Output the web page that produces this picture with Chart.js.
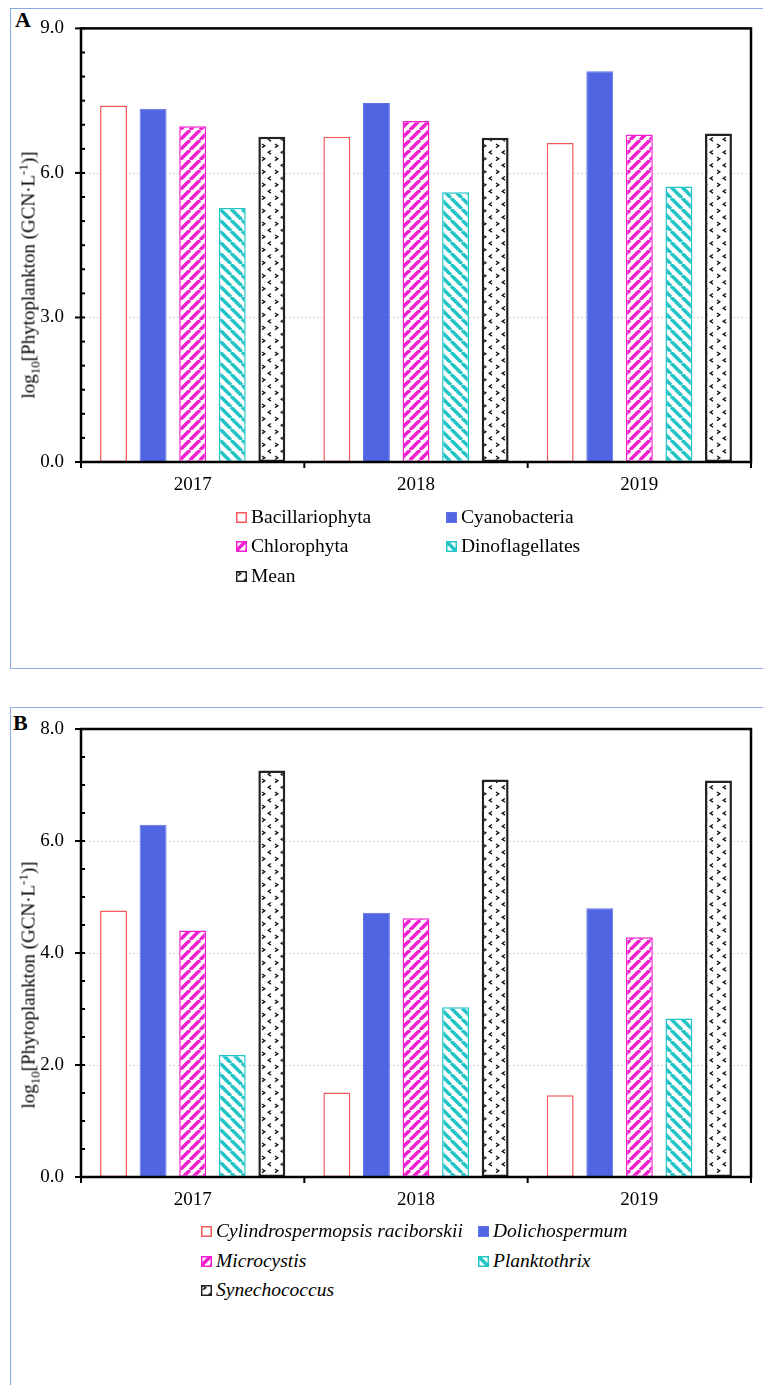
<!DOCTYPE html>
<html><head><meta charset="utf-8">
<script src="https://cdn.jsdelivr.net/npm/chart.js@4.4.1/dist/chart.umd.min.js"></script>
<style>
html,body{margin:0;padding:0;background:#fff;width:763px;height:1385px;overflow:hidden;}
body{position:relative;font-family:"Liberation Serif","Times New Roman",serif;color:#000;}
.panel{position:absolute;border:1.5px solid #88a9e4;box-sizing:border-box;}
.plabel{position:absolute;font-weight:bold;font-size:22px;line-height:22px;}
.ytitle{position:absolute;font-size:19px;line-height:19px;white-space:nowrap;transform:translate(-50%,-50%) rotate(-90deg);}
.ytitle sub,.ytitle sup{font-size:13px;line-height:0;}
.item{position:absolute;font-size:19.5px;line-height:19.5px;white-space:nowrap;}
.item canvas{display:inline-block;vertical-align:baseline;margin-right:4px;}
canvas.chart{position:absolute;left:0;}
</style></head>
<body>
<div class="panel" style="left:10px;top:8px;width:800px;height:661px"></div>
<div class="panel" style="left:10px;top:707px;width:800px;height:720px"></div>
<div class="plabel" style="left:15px;top:9px">A</div>
<div class="plabel" style="left:13px;top:712px">B</div>
<canvas id="cA" class="chart" width="763" height="510" style="top:0;width:763px;height:510px"></canvas>
<canvas id="cB" class="chart" width="763" height="525" style="top:700px;width:763px;height:525px"></canvas>
<div class="ytitle" style="left:28px;top:275px">log<sub>10</sub>[Phytoplankton (GCN·L<sup>-1</sup>)]</div>
<div class="ytitle" style="left:28px;top:985px">log<sub>10</sub>[Phytoplankton (GCN·L<sup>-1</sup>)]</div>
<script>
// ---- data ----
const years = ['2017', '2018', '2019'];
const namesA = ['Bacillariophyta', 'Cyanobacteria', 'Chlorophyta', 'Dinoflagellates', 'Mean'];
const bacillariophyta = [7.40, 6.75, 6.62];
const cyanobacteria   = [7.33, 7.45, 8.11];
const chlorophyta     = [6.97, 7.08, 6.80];
const dinoflagellates = [5.27, 5.60, 5.72];
const meanA           = [6.75, 6.73, 6.82];
const yTicksA = [0, 3, 6, 9];

const namesB = ['Cylindrospermopsis raciborskii', 'Dolichospermum', 'Microcystis', 'Planktothrix', 'Synechococcus'];
const cylindrospermopsis = [4.76, 1.51, 1.46];
const dolichospermum     = [6.29, 4.72, 4.80];
const microcystis        = [4.40, 4.62, 4.28];
const planktothrix       = [2.18, 3.03, 2.83];
const synechococcus      = [7.26, 7.10, 7.08];
const yTicksB = [0, 2, 4, 6, 8];

// ---- patterns ----
function stripeTile(color, size, dir, lw) {
  const c = document.createElement('canvas'); c.width = c.height = size;
  const g = c.getContext('2d');
  g.fillStyle = '#fff'; g.fillRect(0, 0, size, size);
  g.strokeStyle = color; g.lineWidth = lw;
  for (let k = -1; k <= 1; k++) {
    g.beginPath();
    if (dir > 0) { g.moveTo(k * size, size); g.lineTo(k * size + size, 0); }
    else { g.moveTo(k * size, 0); g.lineTo(k * size + size, size); }
    g.stroke();
  }
  return c;
}
function chevronTile() {
  const s = 13; const c = document.createElement('canvas'); c.width = c.height = s;
  const g = c.getContext('2d');
  g.fillStyle = '#fff'; g.fillRect(0, 0, s, s);
  g.strokeStyle = '#111'; g.lineWidth = 1.3;
  g.beginPath(); g.moveTo(2, 1); g.lineTo(4.8, 2.8); g.lineTo(2, 4.6); g.stroke();
  g.beginPath(); g.moveTo(11, 7.5); g.lineTo(8.2, 9.3); g.lineTo(11, 11.1); g.stroke();
  return c;
}
const tiles = {
  mag: stripeTile('#f020d0', 10, 1, 3.5),
  cya: stripeTile('#22c4c6', 11, -1, 3.5),
  chev: chevronTile()
};
function fillFor(ctx, f) { return tiles[f] ? ctx.createPattern(tiles[f], 'repeat') : f; }

const styleDefs = [
  { fill: '#ffffff', border: '#f4585a', bw: 1.5 },
  { fill: '#4f65e2', border: '#5c71e6', bw: 1 },
  { fill: 'mag', border: '#f020d0', bw: 1.5 },
  { fill: 'cya', border: '#22c4c6', bw: 1.5 },
  { fill: 'chev', border: '#222222', bw: 2.5 }
];

// ---- frame / ticks plugin ----
const framePlugin = {
  id: 'frame',
  beforeDatasetsDraw(chart, args, opts) {
    const { ctx, chartArea: a, scales: { y } } = chart;
    ctx.save(); ctx.strokeStyle = '#d6d6d6'; ctx.lineWidth = 1; ctx.setLineDash([2, 2]);
    opts.majors.forEach(v => {
      if (v <= y.min || v >= y.max) return;
      const py = Math.round(y.getPixelForValue(v)) + 0.5;
      ctx.beginPath(); ctx.moveTo(a.left, py); ctx.lineTo(a.right, py); ctx.stroke();
    });
    ctx.restore();
  },
  afterDatasetsDraw(chart, args, opts) {
    const { ctx, chartArea: a, scales: { x, y } } = chart;
    ctx.save(); ctx.strokeStyle = '#000';
    ctx.lineWidth = 2.5;
    ctx.strokeRect(a.left, a.top, a.right - a.left, a.bottom - a.top);
    ctx.lineWidth = 2;
    y.ticks.forEach(t => {
      const py = y.getPixelForValue(t.value);
      const major = opts.majors.some(m => Math.abs(m - t.value) < 1e-6);
      ctx.beginPath(); ctx.moveTo(a.left - (major ? 6 : 0), py); ctx.lineTo(a.left + 4, py); ctx.stroke();
    });
    const n = x.ticks.length;
    const bounds = [a.left];
    for (let i = 0; i < n - 1; i++) bounds.push((x.getPixelForValue(i) + x.getPixelForValue(i + 1)) / 2);
    bounds.push(a.right);
    bounds.forEach(px => { ctx.beginPath(); ctx.moveTo(px, a.bottom); ctx.lineTo(px, a.bottom + 6); ctx.stroke(); });
    ctx.restore();
  }
};

function makeChart(id, names, series, majors, ymax, padTop) {
  const cv = document.getElementById(id);
  const ctx = cv.getContext('2d');
  return new Chart(cv, {
    type: 'bar',
    data: {
      labels: years,
      datasets: names.map((n, i) => ({
        label: n, data: series[i],
        backgroundColor: fillFor(ctx, styleDefs[i].fill),
        borderColor: styleDefs[i].border, borderWidth: styleDefs[i].bw,
        borderSkipped: false,
        categoryPercentage: 0.886, barPercentage: 0.68
      }))
    },
    options: {
      responsive: false, animation: false, devicePixelRatio: 1,
      layout: { padding: { top: padTop, right: 12, left: 0, bottom: 0 } },
      plugins: { legend: { display: false }, tooltip: { enabled: false }, frame: { majors } },
      scales: {
        x: {
          grid: { display: false, drawTicks: false }, border: { display: false },
          ticks: { color: '#000', font: { family: 'Liberation Serif', size: 19 }, padding: 12 },
          afterFit(s) { s.height = 48; }
        },
        y: {
          min: 0, max: ymax,
          grid: { display: false, drawTicks: false }, border: { display: false },
          ticks: {
            stepSize: 0.5, autoSkip: false, color: '#000',
            font: { family: 'Liberation Serif', size: 19 }, padding: 17,
            callback: v => majors.some(m => Math.abs(m - v) < 1e-6) ? Number(v).toFixed(1) : ''
          },
          afterFit(s) { s.width = 81; }
        }
      }
    },
    plugins: [framePlugin]
  });
}

makeChart('cA', namesA, [bacillariophyta, cyanobacteria, chlorophyta, dinoflagellates, meanA], yTicksA, 9, 28);
makeChart('cB', namesB, [cylindrospermopsis, dolichospermum, microcystis, planktothrix, synechococcus], yTicksB, 8, 29);

// ---- HTML legends ----
function buildLegend(names, cols, baselines, italic) {
  names.forEach((n, i) => {
    const d = document.createElement('div'); d.className = 'item';
    d.style.left = cols[i % 2] + 'px';
    d.style.top = (baselines[Math.floor(i / 2)] - 16.3) + 'px';
    if (italic) d.style.fontStyle = 'italic';
    const c = document.createElement('canvas'); c.width = 11; c.height = 11;
    const g = c.getContext('2d');
    g.fillStyle = fillFor(g, styleDefs[i].fill); g.fillRect(0, 0, 11, 11);
    g.strokeStyle = styleDefs[i].border; g.lineWidth = 1.5; g.strokeRect(0.75, 0.75, 9.5, 9.5);
    d.appendChild(c); d.appendChild(document.createTextNode(n));
    document.body.appendChild(d);
  });
}
buildLegend(namesA, [236, 446], [523, 552.5, 582], false);
buildLegend(namesB, [201, 478], [1237, 1267, 1296.5], true);
</script>
</body></html>
